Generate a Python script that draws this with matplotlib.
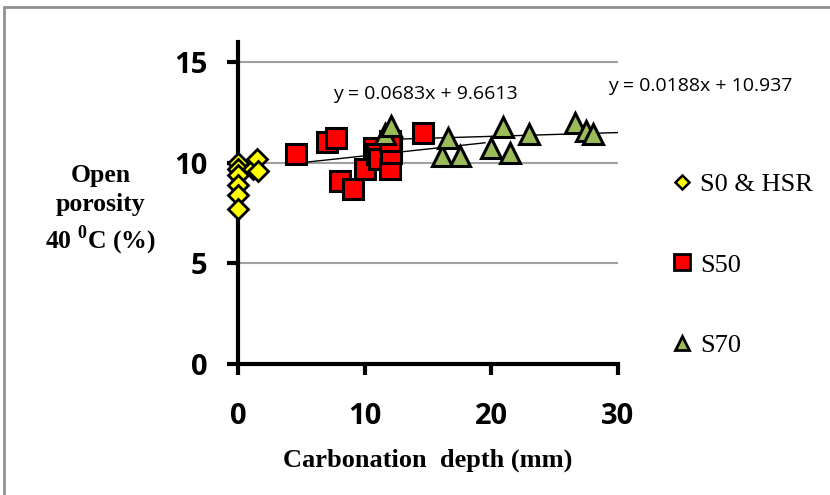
import matplotlib
matplotlib.use('Agg')
import matplotlib.pyplot as plt
from matplotlib.lines import Line2D
from matplotlib.patches import Rectangle
import numpy as np

plt.rcParams['mathtext.fontset'] = 'custom'
plt.rcParams['mathtext.rm'] = 'Liberation Serif:bold'
plt.rcParams['mathtext.bf'] = 'Liberation Serif:bold'

# carbonation depth (mm) vs open porosity at 40 C (%)
s0_x = [0, 0, 0, 0, 0, 0, 1.2, 1.5, 1.6]
s0_y = [10.0, 9.7, 9.4, 8.9, 8.4, 7.7, 9.7, 10.2, 9.6]

s50_x = [4.6, 7.0, 7.7, 8.05, 9.1, 10.0, 10.7, 10.95, 11.1, 12.0, 12.1, 12.1, 12.0, 14.6]
s50_y = [10.45, 11.05, 11.25, 9.1, 8.7, 9.7, 10.75, 10.45, 10.2, 9.7, 10.75, 10.5, 11.1, 11.5]

s70_x = [11.6, 12.1, 16.1, 16.6, 17.5, 20.0, 20.9, 21.5, 23.0, 26.6, 27.5, 28.0]
s70_y = [11.45, 11.85, 10.35, 11.25, 10.35, 10.75, 11.8, 10.5, 11.45, 12.0, 11.6, 11.45]

# linear trendlines: slope, intercept, x range
fit1 = (0.0683, 9.6613, 4.0, 19.5)
fit2 = (0.0188, 10.937, 11.4, 30.0)

fig = plt.figure(figsize=(8.3, 4.95), dpi=100)
ax = fig.add_axes([0.2867, 0.2646, 0.4579, 0.6505])

ax.set_xlim(0, 30)
ax.set_ylim(0, 16)
ax.set_yticks([0, 5, 10, 15])
ax.set_xticks([0, 10, 20, 30])
for v in [5, 10, 15]:
    ax.axhline(v, color='#a0a0a0', lw=1.5, zorder=0)

for side in ['top', 'right']:
    ax.spines[side].set_visible(False)
for side in ['left', 'bottom']:
    ax.spines[side].set_linewidth(3)
ax.tick_params(axis='both', width=3, length=8, direction='out')
ax.tick_params(axis='y', pad=14)
ax.tick_params(axis='x', pad=19)
for lab in ax.get_xticklabels() + ax.get_yticklabels():
    lab.set_fontfamily('Open Sans')
    lab.set_fontweight('bold')
    lab.set_fontsize(21)

for m, b, x0, x1 in [fit1, fit2]:
    xs = np.array([x0, x1])
    ax.plot(xs, m * xs + b, color='black', lw=1, zorder=2)

ax.plot(s0_x, s0_y, 'D', ms=10, mfc='#ffff00', mec='black', mew=2, zorder=3, clip_on=False)
ax.plot(s50_x, s50_y, 's', ms=14, mfc='#ff0000', mec='black', mew=2.2, zorder=3)
ax.plot(s70_x, s70_y, '^', ms=14, mfc='#9bbb59', mec='black', mew=2.2, zorder=4)

ax.text(14.8, 13.4, 'y = 0.0683x + 9.6613', fontsize=14, family='Open Sans', ha='center', va='center')
ax.text(29.2, 13.8, 'y = 0.0188x + 10.937', fontsize=14, family='Open Sans', ha='left', va='center',
        clip_on=False)

fig.text(0.121, 0.575, 'Open\nporosity\n40 $^{0}$C (%)', fontsize=18.5, family='Liberation Serif',
         fontweight='bold', ha='center', va='center', linespacing=1.3)
fig.text(0.515, 0.07, 'Carbonation  depth (mm)', fontsize=19, family='Liberation Serif',
         fontweight='bold', ha='center', va='center')

handles = [
    Line2D([], [], ls='', marker='D', ms=7, mfc='#ffff00', mec='black', mew=1.8),
    Line2D([], [], ls='', marker='s', ms=11, mfc='#ff0000', mec='black', mew=2),
    Line2D([], [], ls='', marker='^', ms=10, mfc='#9bbb59', mec='black', mew=2),
]
fig.legend(handles, ['S0 & HSR', 'S50', 'S70'], loc='center left', bbox_to_anchor=(0.78, 0.465),
           frameon=False, prop={'family': 'Liberation Serif', 'size': 19}, labelspacing=2.15,
           handlelength=0.8, handletextpad=0.3)

fig.patches.append(Rectangle((0.005, -0.1), 1.1, 1.085, transform=fig.transFigure,
                             fill=False, ec='#909090', lw=2))

fig.savefig('out.png', dpi=100)
